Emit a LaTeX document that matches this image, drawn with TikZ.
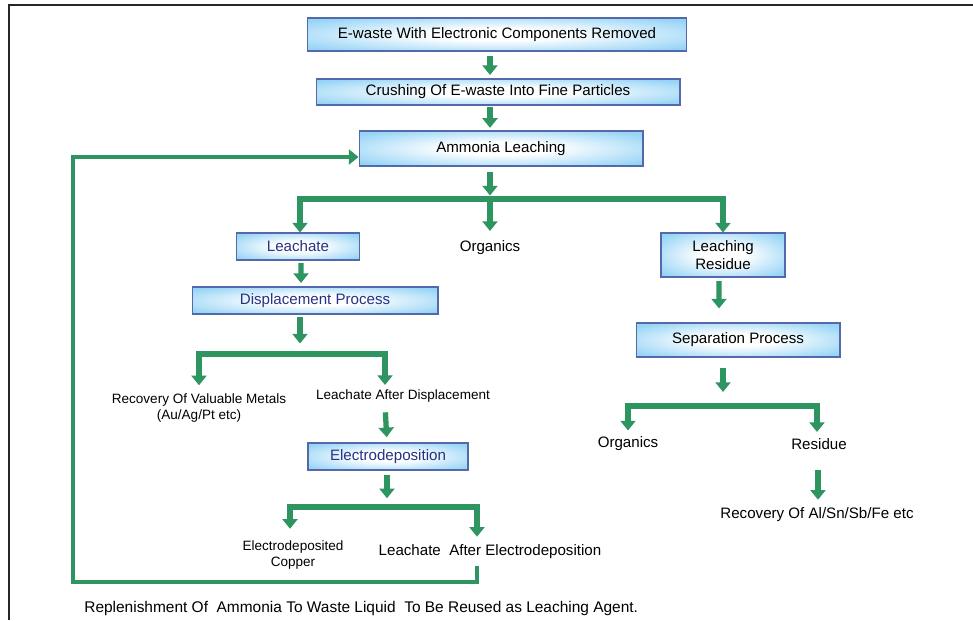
\documentclass[tikz,border=0pt]{standalone}
\usepackage{fontspec}
\setmainfont{Liberation Sans}
\usetikzlibrary{arrows.meta}
\definecolor{flowgreen}{RGB}{46,148,96}
\definecolor{boxblue}{RGB}{150,212,246}
\definecolor{boxedge}{RGB}{85,105,170}
\definecolor{boxtext}{RGB}{40,50,130}
\pgfdeclareradialshading{boxglow}{\pgfpoint{0bp}{0bp}}{color(0bp)=(white); color(9bp)=(white); color(32bp)=(boxblue); color(50bp)=(boxblue)}
\tikzset{
	procbox/.style={draw=boxedge, line width=0.6pt, shading=boxglow, align=center, inner sep=1pt},
	bluetext/.style={text=boxtext},
	plaintext/.style={align=center, inner sep=1.5pt},
	smalltext/.style={plaintext, font=\fontsize{7.7}{9.3}\selectfont},
	flow/.style={draw=flowgreen, line width=3pt, -{Triangle[width=8.5pt,length=5.5pt]}}
}
\begin{document}
\begin{tikzpicture}[x=0.02cm, y=-0.02cm, font=\fontsize{8.6}{10}\selectfont]
	\useasboundingbox (0,0) rectangle (973,620);
	\draw[line width=1.2pt, black!85] (9,620) -- (9,5) -- (973,5);
	% main chain
	\node[procbox, minimum width=7.58cm, minimum height=0.66cm] (ew) at (497,34.5) {E-waste With Electronic Components Removed};
	\node[procbox, minimum width=7.28cm, minimum height=0.52cm] (cr) at (498,92) {Crushing Of E-waste Into Fine Particles};
	\node[procbox, minimum width=5.68cm, minimum height=0.70cm] (al) at (501,148.5) {Ammonia Leaching};
	\coordinate (spine) at (490,0); \coordinate (j1) at (490,199);
	\draw[flow, shorten <=2.5pt, shorten >=2pt] (ew.south -| spine) -- (cr.north -| spine);
	\draw[flow, shorten <=1pt, shorten >=1.5pt] (cr.south -| spine) -- (al.north -| spine);
	\draw[flow, shorten <=3pt, shorten >=2pt] (al.south -| spine) -- (j1);
	% first split
	\node[procbox, bluetext, minimum width=2.46cm, minimum height=0.54cm] (lch) at (298,246.5) {Leachate};
	\node[plaintext] (org1) at (490,248) {Organics};
	\node[procbox, minimum width=2.48cm, minimum height=0.88cm] (lres) at (723,255) {Leaching\\Residue};
	\draw[flow] (j1) -| ([xshift=0.04cm]lch.north);
	\draw[flow, shorten >=4pt] (j1) -- (org1.north);
	\draw[flow] (j1) -| (lres.north);
	% leachate branch
	\node[procbox, bluetext, minimum width=4.92cm, minimum height=0.54cm] (disp) at (315,300.5) {Displacement Process};
	\coordinate (j2) at (300,354);
	\draw[flow, shorten <=1.5pt, shorten >=2pt] ([xshift=0.06cm]lch.south) -- ([xshift=-0.28cm]disp.north);
	\draw[flow, shorten <=1.5pt, shorten >=6pt] (disp.south -| j2) -- (j2);
	\node[smalltext] (rvm) at (199,408) {Recovery Of Valuable Metals\\(Au/Ag/Pt etc)};
	\node[smalltext] (lad) at (403,396) {Leachate After Displacement};
	\draw[flow, shorten >=3pt] (j2) -| (rvm.north);
	\draw[flow, shorten >=1pt] (j2) -| ([xshift=-0.36cm]lad.north);
	\node[procbox, bluetext, minimum width=3.2cm, minimum height=0.54cm] (elec) at (388,456.5) {Electrodeposition};
	\coordinate (j3) at (387,507);
	\draw[flow, shorten <=4pt, shorten >=3pt] ([xshift=-0.36cm]lad.south) -- (elec.north -| j3);
	\draw[flow, shorten <=2.5pt, shorten >=5pt] (elec.south -| j3) -- (j3);
	\node[smalltext] (edc) at (293,555) {Electrodeposited\\Copper};
	\node[plaintext] (lae) at (490,552) {Leachate\ \ After Electrodeposition};
	\coordinate (fbr) at (477,582); \coordinate (fbl) at (73,582); \coordinate (fbt) at (73,157);
	\draw[flow, shorten >=5pt] (j3) -| ([xshift=-0.06cm]edc.north);
	\draw[flow, shorten >=3pt] (j3) -| (lae.north -| fbr);
	% replenishment loop back to leaching
	\draw[flow, line width=2.6pt, shorten <=2pt] (lae.south -| fbr) -- (fbr) -- (fbl) -- (fbt) -- (al.west |- fbt);
	\node[anchor=west, inner sep=0pt, font=\fontsize{8.8}{10}\selectfont] (repl) at (84,608) {Replenishment Of\ \ Ammonia To Waste Liquid\ \ To Be Reused as Leaching Agent.};
	% residue branch
	\node[procbox, minimum width=4.08cm, minimum height=0.68cm] (sep) at (738,340) {Separation Process};
	\coordinate (j4) at (723,406);
	\draw[flow, shorten <=2pt, shorten >=8pt] ([xshift=-0.08cm]lres.south) -- ([xshift=-0.38cm]sep.north);
	\draw[flow, shorten <=6pt, shorten >=8pt] (sep.south -| j4) -- (j4);
	\node[plaintext] (org2) at (628,444) {Organics};
	\node[plaintext] (resd) at (819,444) {Residue};
	\draw[flow, shorten >=2pt] (j4) -| (org2.north);
	\draw[flow, shorten >=2pt] (j4) -| ([xshift=-0.04cm]resd.north);
	\node[plaintext] (ras) at (817,515) {Recovery Of Al/Sn/Sb/Fe etc};
	\draw[flow, shorten <=10pt, shorten >=3pt] ([xshift=-0.02cm]resd.south) -- ([xshift=0.02cm]ras.north);
\end{tikzpicture}
\end{document}
